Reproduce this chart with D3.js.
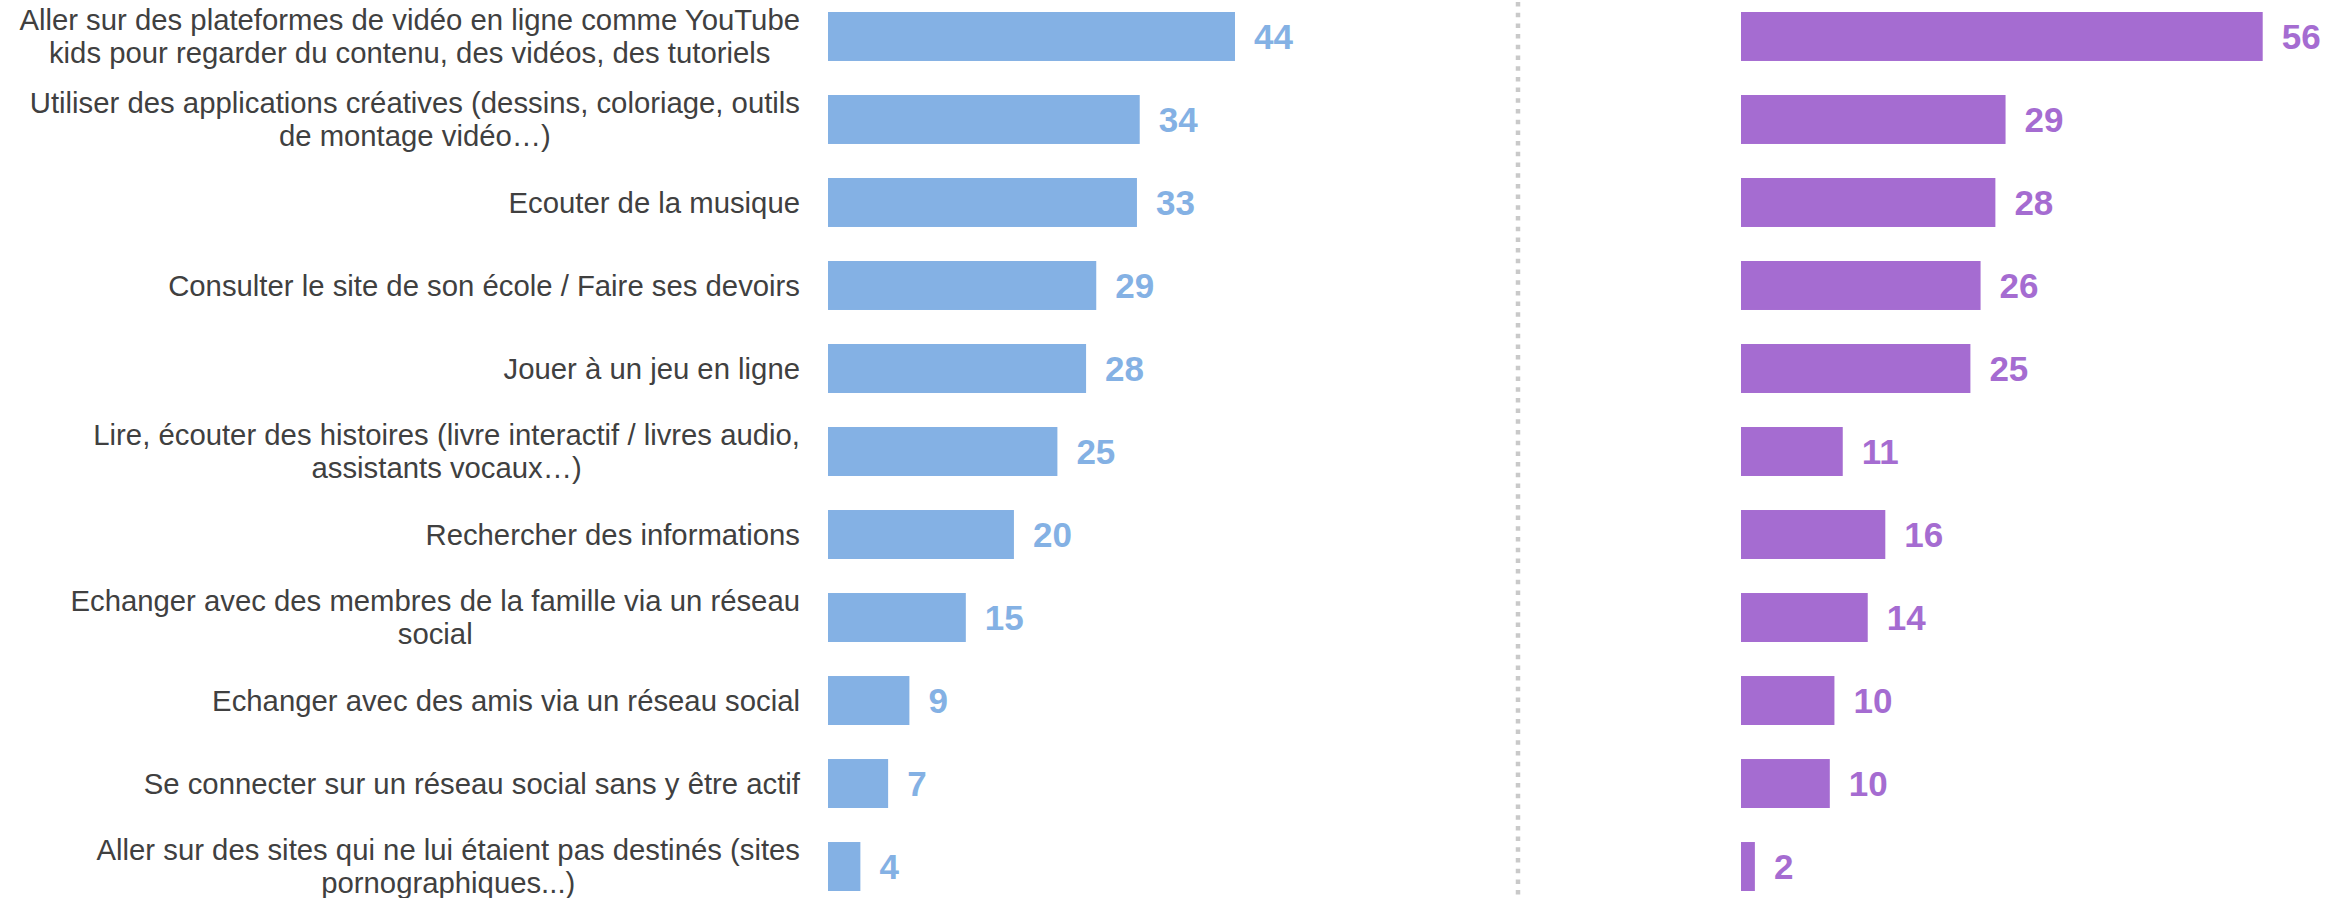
<!DOCTYPE html>
<html>
<head>
<meta charset="utf-8">
<script src="https://cdn.jsdelivr.net/npm/d3@7"></script>
<style>
  body { margin: 0; background: #fff; }
  text { font-family: "Liberation Sans", Arial, sans-serif; }
</style>
</head>
<body>
<script>
var width = 2346, height = 898;

// categories (line breaks as in the source chart)
var categories = [
  "Aller sur des plateformes de vidéo en ligne comme YouTube\nkids pour regarder du contenu, des vidéos, des tutoriels",
  "Utiliser des applications créatives (dessins, coloriage, outils\nde montage vidéo…)",
  "Ecouter de la musique",
  "Consulter le site de son école / Faire ses devoirs",
  "Jouer à un jeu en ligne",
  "Lire, écouter des histoires (livre interactif / livres audio,\nassistants vocaux…)",
  "Rechercher des informations",
  "Echanger avec des membres de la famille via un réseau\nsocial",
  "Echanger avec des amis via un réseau social",
  "Se connecter sur un réseau social sans y être actif",
  "Aller sur des sites qui ne lui étaient pas destinés (sites\npornographiques...)"
];

// series values
var valuesBlue = [44, 33.7, 33.4, 29, 27.9, 24.8, 20.1, 14.9, 8.8, 6.5, 3.5];
var valuesPurple = [56.4, 28.6, 27.5, 25.9, 24.8, 11, 15.6, 13.7, 10.1, 9.6, 1.5];

var blue = "#84B1E4", purple = "#A56CD1";

var svg = d3.select("body").append("svg")
    .attr("width", width)
    .attr("height", height);

var y = d3.scaleBand()
    .domain(d3.range(categories.length))
    .range([12, 891])
    .paddingInner(0.41)
    .paddingOuter(0);

var xLeft = d3.scaleLinear().domain([0, 60]).range([828, 828 + 555]);
var xRight = d3.scaleLinear().domain([0, 60]).range([1741, 1741 + 555]);

// separator
svg.append("line")
    .attr("x1", 1518).attr("x2", 1518)
    .attr("y1", 2).attr("y2", height)
    .attr("stroke", "#c9c9c9")
    .attr("stroke-width", 4.5)
    .attr("stroke-dasharray", "4.5 6.2");

// category labels: block right-aligned, lines centred in the block
var labelRight = 800, lineH = 33, fs = 29.3;
categories.forEach(function(c, i) {
  var lines = c.split("\n");
  var cy = y(i) + y.bandwidth() / 2;
  var g = svg.append("g");
  var ts = lines.map(function(l, j) {
    return g.append("text")
      .attr("y", cy - (lines.length - 1) * lineH / 2 + j * lineH)
      .attr("dy", "0.35em")
      .attr("font-size", fs)
      .attr("fill", "#404040")
      .attr("text-anchor", "middle")
      .text(l);
  });
  var w = d3.max(ts, function(t) { return t.node().getComputedTextLength(); });
  ts.forEach(function(t) { t.attr("x", labelRight - w / 2); });
});

function panel(values, x, color) {
  var g = svg.append("g");
  g.selectAll("rect")
    .data(values)
    .enter().append("rect")
    .attr("x", x(0))
    .attr("y", function(d, i) { return y(i); })
    .attr("width", function(d) { return x(d) - x(0); })
    .attr("height", y.bandwidth())
    .attr("fill", color);

  g.selectAll("text")
    .data(values)
    .enter().append("text")
    .attr("x", function(d) { return x(d) + 19; })
    .attr("y", function(d, i) { return y(i) + y.bandwidth() / 2; })
    .attr("dy", "0.35em")
    .attr("font-size", 35)
    .attr("font-weight", "bold")
    .attr("fill", color)
    .text(function(d) { return d3.format(".0f")(d); });
}

panel(valuesBlue, xLeft, blue);
panel(valuesPurple, xRight, purple);
</script>
</body>
</html>
